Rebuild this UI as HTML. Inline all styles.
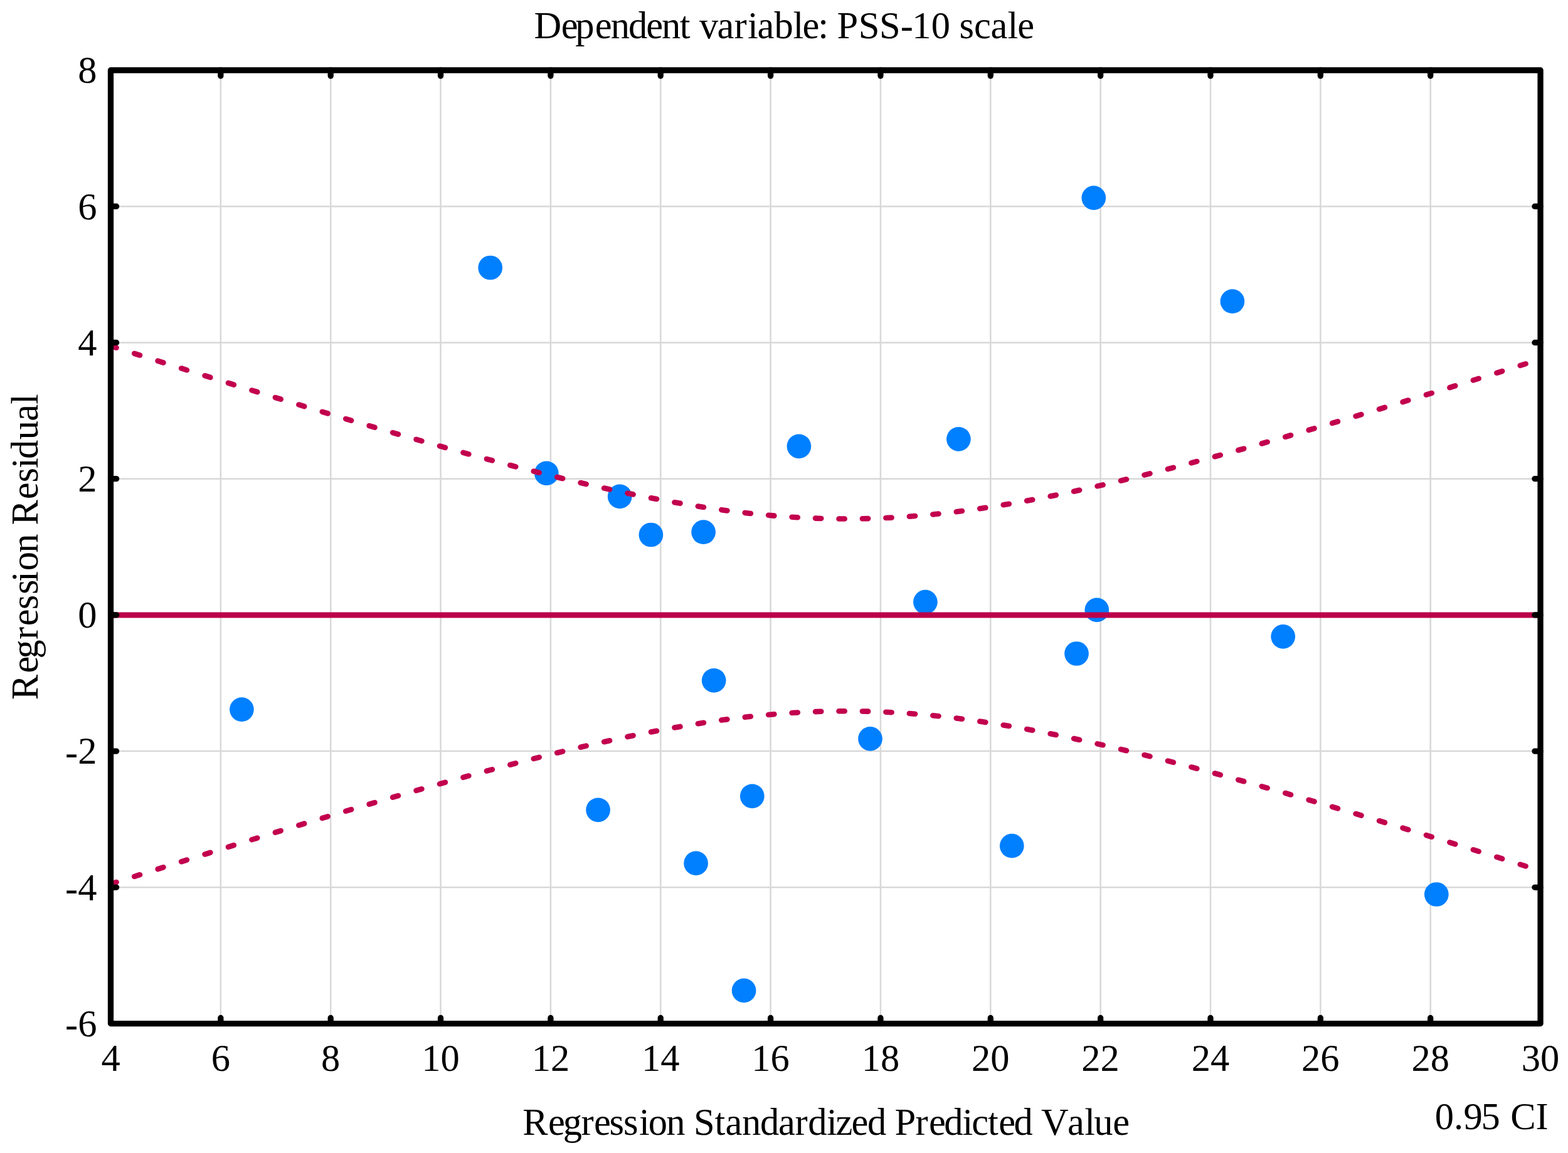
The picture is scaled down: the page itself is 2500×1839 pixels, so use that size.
<!DOCTYPE html><html><head><meta charset="utf-8"><title>Dependent variable: PSS-10 scale</title><style>html,body{margin:0;padding:0;background:#fff;width:2500px;height:1839px;overflow:hidden}svg{display:block}text{font-family:"Liberation Serif","Times New Roman",serif;fill:#000}</style></head><body>
<svg width="2500" height="1839" viewBox="0 0 2500 1839">
<rect width="2500" height="1839" fill="#fff"/>
<path d="M351.85 112.0V1632.5M527.20 112.0V1632.5M702.55 112.0V1632.5M877.90 112.0V1632.5M1053.25 112.0V1632.5M1228.60 112.0V1632.5M1403.95 112.0V1632.5M1579.30 112.0V1632.5M1754.65 112.0V1632.5M1930.00 112.0V1632.5M2105.35 112.0V1632.5M2280.70 112.0V1632.5M176.5 1415.32H2456.0M176.5 1198.10H2456.0M176.5 980.88H2456.0M176.5 763.66H2456.0M176.5 546.44H2456.0M176.5 329.22H2456.0" stroke="#d8d8d8" stroke-width="2.5" fill="none"/>
<g fill="#0080ff">
<circle cx="781.7" cy="427" r="19.35"/>
<circle cx="385.4" cy="1131.6" r="19.35"/>
<circle cx="871.3" cy="754.8" r="19.35"/>
<circle cx="988.2" cy="791.8" r="19.35"/>
<circle cx="1037.9" cy="853" r="19.35"/>
<circle cx="1121.6" cy="848.7" r="19.35"/>
<circle cx="1273.9" cy="711.8" r="19.35"/>
<circle cx="1528.4" cy="700.3" r="19.35"/>
<circle cx="1743.8" cy="315.6" r="19.35"/>
<circle cx="1964.9" cy="480.7" r="19.35"/>
<circle cx="1475.4" cy="960.2" r="19.35"/>
<circle cx="1748.8" cy="972.9" r="19.35"/>
<circle cx="2045.7" cy="1015.4" r="19.35"/>
<circle cx="1716.5" cy="1042.5" r="19.35"/>
<circle cx="1138.2" cy="1085.3" r="19.35"/>
<circle cx="1387.5" cy="1178.4" r="19.35"/>
<circle cx="1199.3" cy="1269.8" r="19.35"/>
<circle cx="953.6" cy="1291.8" r="19.35"/>
<circle cx="1109.6" cy="1376.9" r="19.35"/>
<circle cx="1613.3" cy="1349.2" r="19.35"/>
<circle cx="2290.3" cy="1426.5" r="19.35"/>
<circle cx="1186.1" cy="1579.9" r="19.35"/>
</g>
<path d="M176.5 980.88H2456.0" stroke="#bc004a" stroke-width="9"/>
<path d="M176.77 551.85L185.53 554.65M176.77 1409.91L185.53 1407.11M214.22 563.78L222.98 566.56M214.22 1397.98L222.98 1395.20M251.66 575.65L260.44 578.42M251.66 1386.11L260.44 1383.34M289.11 587.47L297.89 590.23M289.11 1374.29L297.89 1371.53M326.56 599.22L335.34 601.96M326.56 1362.54L335.34 1359.80M364.01 610.90L372.79 613.63M364.01 1350.86L372.79 1348.13M401.45 622.51L410.25 625.22M401.45 1339.25L410.25 1336.54M438.90 634.03L447.70 636.73M438.90 1327.73L447.70 1325.03M476.35 645.46L485.15 648.13M476.35 1316.30L485.15 1313.63M513.79 656.79L522.61 659.44M513.79 1304.97L522.61 1302.32M551.24 668.01L560.06 670.63M551.24 1293.75L560.06 1291.13M588.69 679.09L597.51 681.69M588.69 1282.67L597.51 1280.07M626.13 690.04L634.97 692.60M626.13 1271.72L634.97 1269.16M663.58 700.83L672.42 703.36M663.58 1260.93L672.42 1258.40M701.02 711.45L709.88 713.93M701.02 1250.31L709.88 1247.83M738.46 721.87L747.34 724.31M738.46 1239.89L747.34 1237.45M775.91 732.07L784.79 734.45M775.91 1229.69L784.79 1227.31M813.35 742.01L822.25 744.34M813.35 1219.75L822.25 1217.42M850.79 751.68L859.71 753.93M850.79 1210.08L859.71 1207.83M888.23 761.02L897.17 763.20M888.23 1200.74L897.17 1198.56M925.67 770.00L934.63 772.09M925.67 1191.76L934.63 1189.67M963.11 778.57L972.09 780.56M963.11 1183.19L972.09 1181.20M1000.55 786.68L1009.55 788.55M1000.55 1175.08L1009.55 1173.21M1037.98 794.25L1047.02 796.00M1037.98 1167.51L1047.02 1165.76M1075.42 801.24L1084.48 802.83M1075.42 1160.52L1084.48 1158.93M1112.86 807.56L1121.94 808.99M1112.86 1154.20L1121.94 1152.77M1150.29 813.15L1159.41 814.39M1150.29 1148.61L1159.41 1147.37M1187.73 817.91L1196.87 818.95M1187.73 1143.85L1196.87 1142.81M1225.17 821.80L1234.33 822.60M1225.17 1139.96L1234.33 1139.16M1262.61 824.72L1271.79 825.29M1262.61 1137.04L1271.79 1136.47M1300.05 826.64L1309.25 826.95M1300.05 1135.12L1309.25 1134.81M1337.50 827.51L1346.70 827.56M1337.50 1134.25L1346.70 1134.20M1374.95 827.31L1384.15 827.10M1374.95 1134.45L1384.15 1134.66M1412.41 826.06L1421.59 825.59M1412.41 1135.70L1421.59 1136.17M1449.86 823.76L1459.04 823.05M1449.86 1138.00L1459.04 1138.71M1487.32 820.48L1496.48 819.53M1487.32 1141.28L1496.48 1142.23M1524.79 816.26L1533.91 815.10M1524.79 1145.50L1533.91 1146.66M1562.25 811.18L1571.35 809.82M1562.25 1150.58L1571.35 1151.94M1599.71 805.31L1608.79 803.78M1599.71 1156.45L1608.79 1157.98M1637.18 798.73L1646.22 797.04M1637.18 1163.03L1646.22 1164.72M1674.64 791.51L1683.66 789.68M1674.64 1170.25L1683.66 1172.08M1712.10 783.72L1721.10 781.78M1712.10 1178.04L1721.10 1179.98M1749.57 775.43L1758.53 773.38M1749.57 1186.33L1758.53 1188.38M1787.03 766.70L1795.97 764.55M1787.03 1195.06L1795.97 1197.21M1824.49 757.57L1833.41 755.35M1824.49 1204.19L1833.41 1206.41M1861.95 748.10L1870.85 745.80M1861.95 1213.66L1870.85 1215.96M1899.40 738.32L1908.30 735.96M1899.40 1223.44L1908.30 1225.80M1936.86 728.27L1945.74 725.86M1936.86 1233.49L1945.74 1235.90M1974.32 717.99L1983.18 715.52M1974.32 1243.77L1983.18 1246.24M2011.77 707.49L2020.63 704.98M2011.77 1254.27L2020.63 1256.78M2049.23 696.80L2058.07 694.25M2049.23 1264.96L2058.07 1267.51M2086.68 685.94L2095.52 683.36M2086.68 1275.82L2095.52 1278.40M2124.14 674.94L2132.96 672.33M2124.14 1286.82L2132.96 1289.43M2161.59 663.80L2170.41 661.16M2161.59 1297.96L2170.41 1300.60M2199.05 652.54L2207.85 649.87M2199.05 1309.22L2207.85 1311.89M2236.50 641.17L2245.30 638.48M2236.50 1320.59L2245.30 1323.28M2273.95 629.70L2282.75 626.99M2273.95 1332.06L2282.75 1334.77M2311.41 618.14L2320.19 615.42M2311.41 1343.62L2320.19 1346.34M2348.86 606.50L2357.64 603.76M2348.86 1355.26L2357.64 1358.00M2386.31 594.79L2395.09 592.04M2386.31 1366.97L2395.09 1369.72M2423.76 583.01L2432.54 580.25M2423.76 1378.75L2432.54 1381.51" stroke="#c2004e" stroke-width="8.6" stroke-linecap="round" fill="none"/>
<rect x="176.5" y="112.0" width="2279.55" height="1520.54" fill="none" stroke="#000" stroke-width="9.3" stroke-linejoin="round"/>
<path d="M351.85 112.0v9.1M351.85 1632.54v-9.1M527.20 112.0v9.1M527.20 1632.54v-9.1M702.55 112.0v9.1M702.55 1632.54v-9.1M877.90 112.0v9.1M877.90 1632.54v-9.1M1053.25 112.0v9.1M1053.25 1632.54v-9.1M1228.60 112.0v9.1M1228.60 1632.54v-9.1M1403.95 112.0v9.1M1403.95 1632.54v-9.1M1579.30 112.0v9.1M1579.30 1632.54v-9.1M1754.65 112.0v9.1M1754.65 1632.54v-9.1M1930.00 112.0v9.1M1930.00 1632.54v-9.1M2105.35 112.0v9.1M2105.35 1632.54v-9.1M2280.70 112.0v9.1M2280.70 1632.54v-9.1M176.5 1415.32h9.1M2456.05 1415.32h-9.1M176.5 1198.10h9.1M2456.05 1198.10h-9.1M176.5 980.88h9.1M2456.05 980.88h-9.1M176.5 763.66h9.1M2456.05 763.66h-9.1M176.5 546.44h9.1M2456.05 546.44h-9.1M176.5 329.22h9.1M2456.05 329.22h-9.1" stroke="#000" stroke-width="9.3" stroke-linecap="round" fill="none"/>
<text x="851.4 894.7 917.2 948.7 973.7 1001.9 1030.3 1055.1 1083.8 1100.6 1115.0 1143.5 1170.5 1192.0 1207.5 1234.4 1264.4 1279.5 1304.2 1321.0 1334.5 1368.8 1402.0 1435.8 1454.2 1484.8 1515.0 1529.4 1553.1 1579.4 1606.5 1622.2" y="60.6" font-size="60.5">Dependent variable: PSS-10 scale</text>
<text x="833.3 874.0 897.7 926.4 947.1 971.4 993.9 1018.9 1033.8 1062.2 1092.5 1106.0 1139.6 1156.5 1183.0 1211.9 1241.0 1267.5 1288.2 1318.0 1332.4 1357.5 1383.0 1413.2 1426.5 1459.5 1481.0 1505.2 1534.4 1549.2 1575.1 1592.2 1616.4 1646.7 1660.0 1702.0 1729.2 1744.2 1774.2" y="1809.5" font-size="60.5">Regression Standardized Predicted Value</text>
<text x="2287.8 2318.0 2333.5 2361.5 2391.8 2408.2 2448.4" y="1800.9" font-size="60.5">0.95 CI</text>
<text transform="rotate(-90)" x="-1116.2 -1073.6 -1050.4 -1020.1 -998.3 -972.3 -948.0 -927.9 -910.3 -881.8 -851.5 -837.5 -796.2 -769.6 -747.1 -732.0 -701.3 -671.8 -645.1" y="59.6" font-size="60.5">Regression Residual</text>
<text x="154.5" y="1652.8" font-size="60.5" text-anchor="end"><tspan dy="1.3">-</tspan><tspan dy="-1.3">6</tspan></text>
<text x="154.5" y="1435.6" font-size="60.5" text-anchor="end"><tspan dy="1.3">-</tspan><tspan dy="-1.3">4</tspan></text>
<text x="154.5" y="1218.4" font-size="60.5" text-anchor="end"><tspan dy="1.3">-</tspan><tspan dy="-1.3">2</tspan></text>
<text x="154.5" y="1001.2" font-size="60.5" text-anchor="end">0</text>
<text x="154.5" y="784.0" font-size="60.5" text-anchor="end">2</text>
<text x="154.5" y="566.7" font-size="60.5" text-anchor="end">4</text>
<text x="154.5" y="349.5" font-size="60.5" text-anchor="end">6</text>
<text x="154.5" y="132.3" font-size="60.5" text-anchor="end">8</text>
<text x="176.5" y="1708" font-size="60.5" text-anchor="middle">4</text>
<text x="351.9" y="1708" font-size="60.5" text-anchor="middle">6</text>
<text x="527.2" y="1708" font-size="60.5" text-anchor="middle">8</text>
<text x="702.5" y="1708" font-size="60.5" text-anchor="middle">10</text>
<text x="877.9" y="1708" font-size="60.5" text-anchor="middle">12</text>
<text x="1053.2" y="1708" font-size="60.5" text-anchor="middle">14</text>
<text x="1228.6" y="1708" font-size="60.5" text-anchor="middle">16</text>
<text x="1404.0" y="1708" font-size="60.5" text-anchor="middle">18</text>
<text x="1579.3" y="1708" font-size="60.5" text-anchor="middle">20</text>
<text x="1754.6" y="1708" font-size="60.5" text-anchor="middle">22</text>
<text x="1930.0" y="1708" font-size="60.5" text-anchor="middle">24</text>
<text x="2105.3" y="1708" font-size="60.5" text-anchor="middle">26</text>
<text x="2280.7" y="1708" font-size="60.5" text-anchor="middle">28</text>
<text x="2456.0" y="1708" font-size="60.5" text-anchor="middle">30</text>
</svg></body></html>
